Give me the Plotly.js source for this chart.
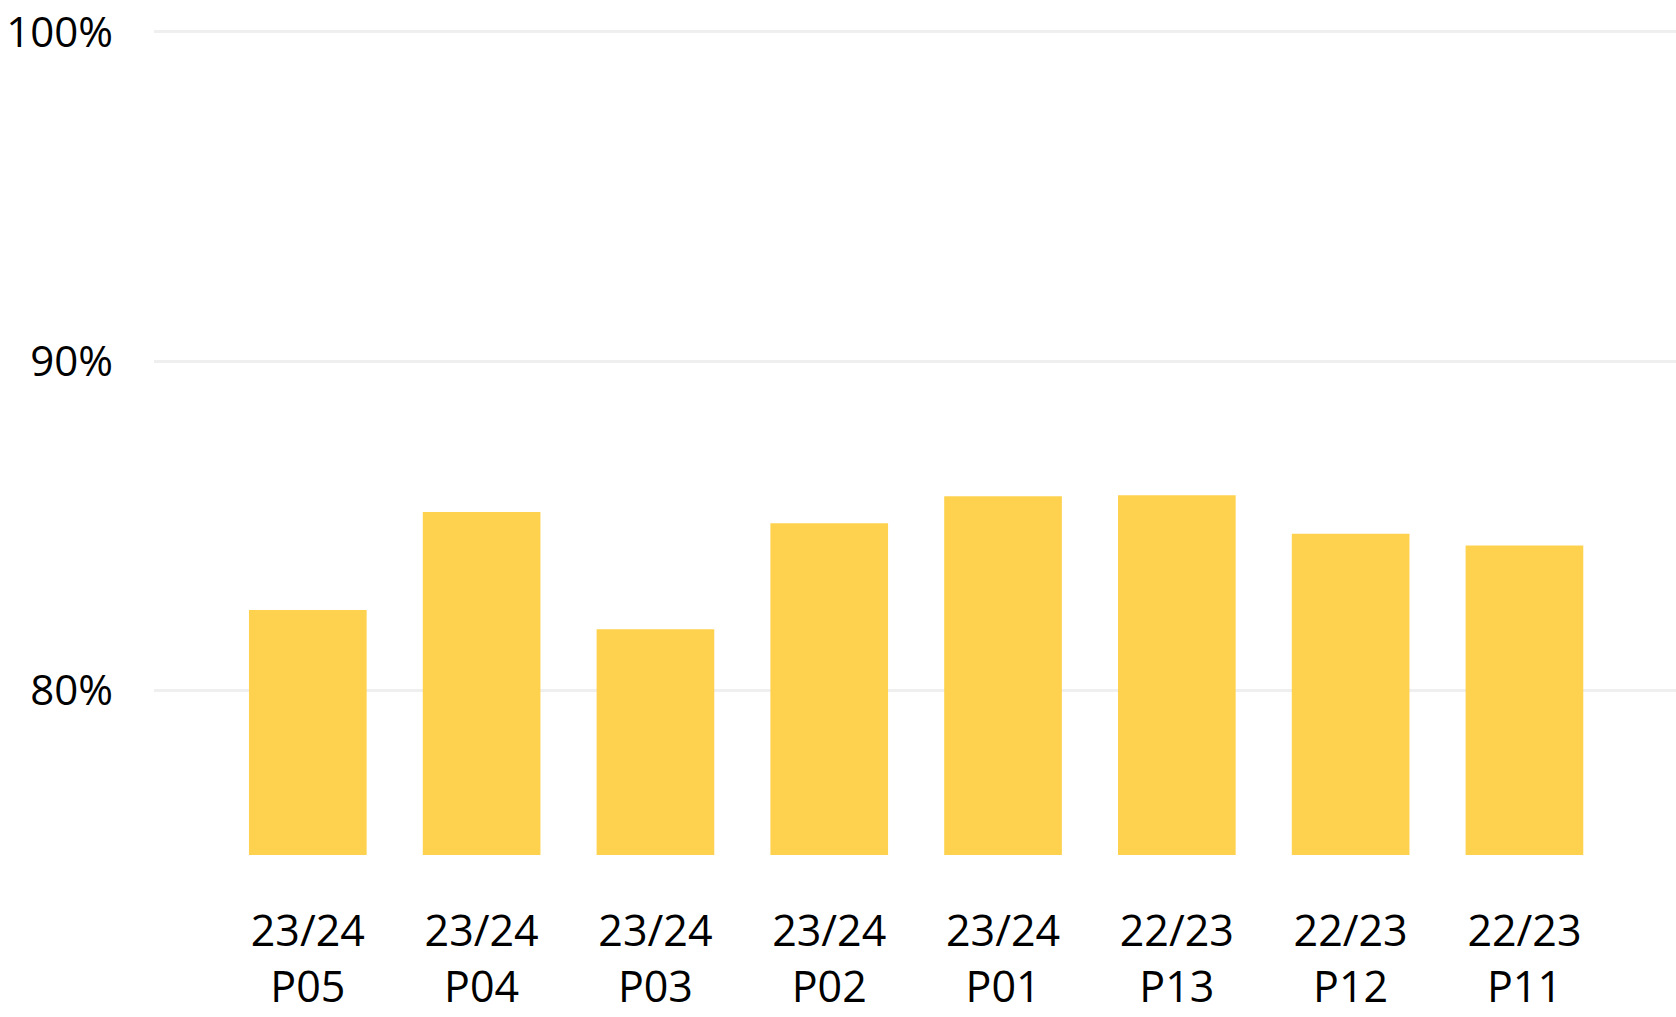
<!DOCTYPE html>
<html>
<head>
<meta charset="utf-8">
<script src="https://cdn.plot.ly/plotly-3.0.1.min.js"></script>
<style>html,body{margin:0;padding:0;background:#fff;}#chart{width:1676px;height:1017px;}</style>
</head>
<body>
<div id="chart"></div>
<script>
const years = ["23/24", "23/24", "23/24", "23/24", "23/24", "22/23", "22/23", "22/23"];
const periods = ["P05", "P04", "P03", "P02", "P01", "P13", "P12", "P11"];
const values = [82.44, 85.42, 81.86, 85.08, 85.9, 85.93, 84.76, 84.4];
const yTickVals = [80, 90, 100];
const yTickText = ["80%", "90%", "100%"];

const labels = years.map((y, i) => y + "<br>" + periods[i]);
const idx = labels.map((_, i) => i);

const trace = {
  type: "bar",
  x: idx,
  y: values.map(v => v - 75),
  base: 75,
  width: 0.677,
  marker: {color: "#FED24E"},
  hoverinfo: "skip"
};

const layout = {
  width: 1676,
  height: 1017,
  margin: {l: 154, r: 0, t: 30, b: 162},
  paper_bgcolor: "#ffffff",
  plot_bgcolor: "#ffffff",
  showlegend: false,
  font: {family: "Open Sans, sans-serif", size: 42, color: "#000000"},
  xaxis: {
    type: "linear",
    range: [-0.885, 7.872],
    tickmode: "array",
    tickvals: idx,
    ticktext: labels,
    showgrid: false,
    zeroline: false,
    showline: false,
    ticks: "",
    ticklabelstandoff: 47,
    tickfont: {family: "Open Sans, sans-serif", size: 43, color: "#000000"}
  },
  yaxis: {
    range: [75, 100.06],
    tickmode: "array",
    tickvals: yTickVals,
    ticktext: yTickText,
    showgrid: true,
    gridcolor: "#efefef",
    gridwidth: 3,
    zeroline: false,
    showline: false,
    ticks: "",
    ticklabelstandoff: 40,
    tickfont: {family: "Open Sans, sans-serif", size: 42, color: "#000000"}
  }
};

Plotly.newPlot("chart", [trace], layout, {displayModeBar: false, staticPlot: true});
</script>
</body>
</html>
